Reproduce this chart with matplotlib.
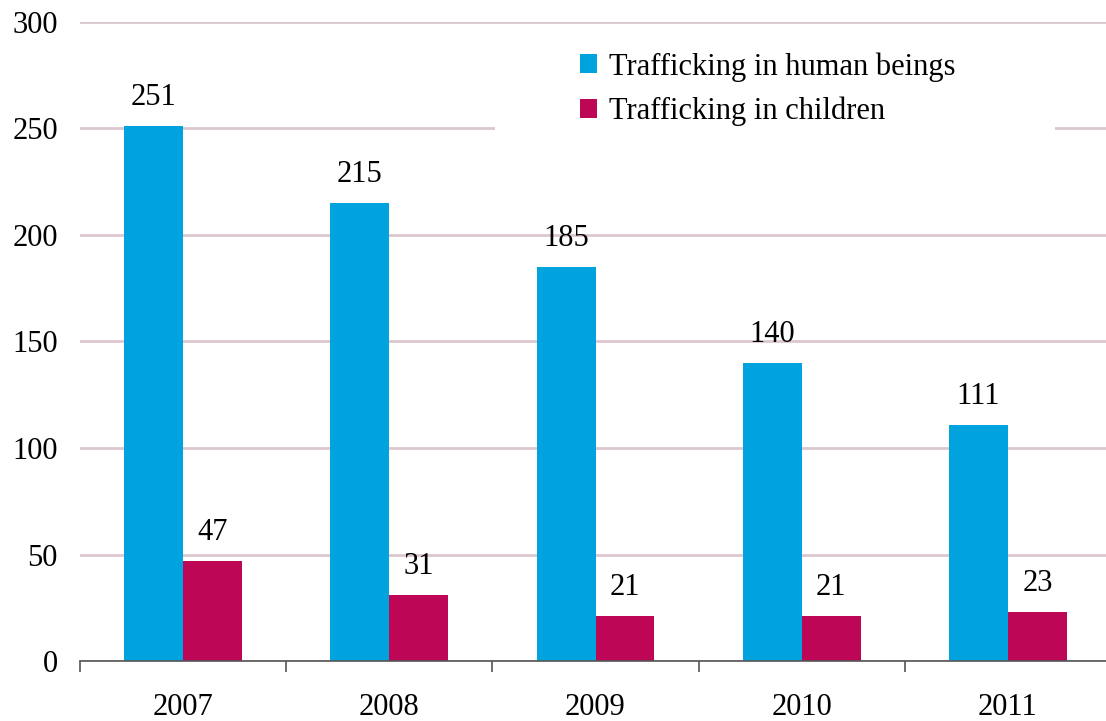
import matplotlib
matplotlib.use("Agg")
import matplotlib.pyplot as plt
import numpy as np
from matplotlib.patches import Rectangle

years = ["2007", "2008", "2009", "2010", "2011"]
human_beings = [251, 215, 185, 140, 111]
children = [47, 31, 21, 21, 23]
series_names = ["Trafficking in human beings", "Trafficking in children"]
yticks = [0, 50, 100, 150, 200, 250, 300]

plt.rcParams["font.family"] = ["Liberation Serif", "DejaVu Serif"]
FS = 22

W, H = 1106, 721
fig = plt.figure(figsize=(W / 100, H / 100), dpi=100)
ax = fig.add_axes([80 / W, 1 - 661 / H, 1031 / W, 639 / H])

blue = "#00A3DD"
red = "#BE0657"
x = np.arange(len(years))
bw = 0.286

b1 = ax.bar(x - bw / 2, human_beings, bw, color=blue, label=series_names[0], zorder=2)
b2 = ax.bar(x + bw / 2, children, bw, color=red, label=series_names[1], zorder=2)

for bars, vals in ((b1, human_beings), (b2, children)):
    for r, v in zip(bars, vals):
        ax.annotate(str(v), (r.get_x() + r.get_width() / 2, v), xytext=(0, 10),
                    textcoords="offset points", ha="center", va="bottom", fontsize=FS)

ax.set_xlim(-0.5, len(years) - 0.5)
ax.set_ylim(0, 300)
ax.set_yticks(yticks)
ax.set_yticklabels([str(t) for t in yticks], fontsize=FS)
ax.yaxis.grid(True, color="#DCC6CF", linewidth=2)
ax.set_axisbelow(True)
ax.tick_params(axis="y", length=0, pad=16)

ax.set_xticks(x)
ax.set_xticklabels(years, fontsize=FS)
ax.set_xticks(np.arange(-0.5, len(years) + 0.5, 1), minor=True)
ax.tick_params(axis="x", which="major", length=0, pad=23)
ax.tick_params(axis="x", which="minor", length=8, width=1.2, color="#555555", direction="out")

for s in ("top", "right", "left"):
    ax.spines[s].set_visible(False)
ax.spines["bottom"].set_color("#555555")
ax.spines["bottom"].set_linewidth(1.2)
ax.spines["bottom"].set_zorder(3)

# white panel behind the legend
ax.add_patch(Rectangle((0.4025, 0.823), 0.5432, 0.172, transform=ax.transAxes,
                       facecolor="white", edgecolor="none", zorder=1))

leg = ax.legend(loc="upper left", bbox_to_anchor=(580 / W, 1 - 52 / H),
                bbox_transform=fig.transFigure, frameon=False, fontsize=FS,
                handlelength=0.56, handleheight=0.56, handletextpad=0.4,
                labelspacing=0.5, borderpad=0, borderaxespad=0)

fig.savefig("out.png", dpi=100)
